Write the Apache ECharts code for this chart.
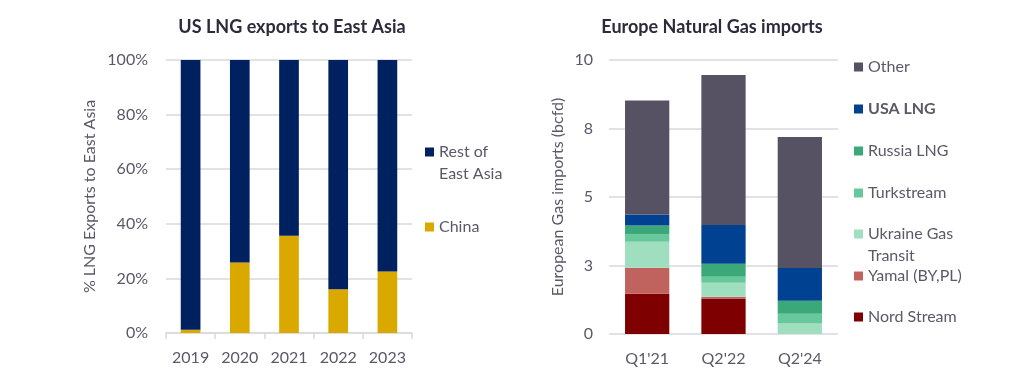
<!DOCTYPE html>
<html>
<head>
<meta charset="utf-8">
<script src="https://cdn.jsdelivr.net/npm/echarts@6/dist/echarts.min.js"></script>
<style>
html,body{margin:0;padding:0;background:#fff;}
#chart{width:1025px;height:379px;}
</style>
</head>
<body>
<div id="chart"></div>
<script>
// Left chart data
const years = ['2019', '2020', '2021', '2022', '2023'];
const china = [1.2, 25.8, 35.6, 16.0, 22.5];
const restOfEastAsia = [98.8, 74.2, 64.4, 84.0, 77.5];
const leftTicks = ['0%', '20%', '40%', '60%', '80%', '100%'];

// Right chart data
const quarters = ["Q1'21", "Q2'22", "Q2'24"];
const nordStream = [1.47, 1.30, 0];
const yamal = [0.95, 0.06, 0];
const ukraineTransit = [0.95, 0.51, 0.38];
const turkstream = [0.26, 0.22, 0.36];
const russiaLNG = [0.33, 0.47, 0.47];
const usaLNG = [0.40, 1.42, 1.20];
const other = [4.16, 5.47, 4.78];
const rightTicks = ['0', '3', '5', '8', '10'];

const FONT = 'Lato, "Open Sans", sans-serif';
const TXT = '#595968';
const GRID = '#d9d9de';

const chart = echarts.init(document.getElementById('chart'), null, {renderer: 'canvas'});

function leg(name, left, top, bold, twoLine) {
  return {
    data: [name], left: left, top: top, orient: 'vertical',
    itemWidth: 9, itemHeight: 9, itemGap: 0, padding: 0,
    icon: 'rect', selectedMode: false,
    formatter: twoLine ? twoLine : '{name}',
    textStyle: {
      fontFamily: FONT, fontSize: 16, color: TXT,
      fontWeight: bold ? 'bold' : 'normal',
      lineHeight: 22
    }
  };
}

const rightSeriesDefs = [
  ['Nord Stream', nordStream, '#7f0000'],
  ['Yamal (BY,PL)', yamal, '#c0625d'],
  ['Ukraine Gas Transit', ukraineTransit, '#9fdfc0'],
  ['Turkstream', turkstream, '#66c89b'],
  ['Russia LNG', russiaLNG, '#3aa878'],
  ['USA LNG', usaLNG, '#004191'],
  ['Other', other, '#575263']
];

const option = {
  animation: false,
  backgroundColor: '#ffffff',
  title: [
    {text: 'US LNG exports to East Asia', left: 287, top: 13, textAlign: 'center',
     textStyle: {fontFamily: FONT, fontSize: 18, fontWeight: 'bold', color: '#2b2b3b'}},
    {text: 'Europe Natural Gas imports', left: 707, top: 13, textAlign: 'center',
     textStyle: {fontFamily: FONT, fontSize: 18, fontWeight: 'bold', color: '#2b2b3b'}}
  ],
  legend: [
    leg('Rest of East Asia', 425, 119, false, ' \nRest of\nEast Asia'),
    leg('China', 425, 216, false),
    leg('Other', 854, 56, false),
    leg('USA LNG', 854, 98, true),
    leg('Russia LNG', 854, 140, false),
    leg('Turkstream', 854, 182, false),
    leg('Ukraine Gas Transit', 854, 201, false, ' \nUkraine Gas\nTransit'),
    leg('Yamal (BY,PL)', 854, 265, false),
    leg('Nord Stream', 854, 306, false)
  ],
  grid: [
    {left: 166, right: 613, top: 60, bottom: 46},
    {left: 609, right: 187, top: 60, bottom: 45}
  ],
  xAxis: [
    {type: 'category', gridIndex: 0, data: years,
     axisLine: {show: true, lineStyle: {color: GRID, width: 1.5}},
     axisTick: {show: true, length: 6, lineStyle: {color: GRID, width: 1.5}},
     axisLabel: {fontFamily: FONT, fontSize: 16, color: TXT, margin: 17}},
    {type: 'category', gridIndex: 1, data: quarters,
     axisLine: {show: false}, axisTick: {show: false},
     axisLabel: {fontFamily: FONT, fontSize: 16, color: TXT, margin: 17}}
  ],
  yAxis: [
    {type: 'value', gridIndex: 0, min: 0, max: 100, interval: 20,
     name: '% LNG Exports to East Asia', nameLocation: 'middle', nameGap: 68,
     nameTextStyle: {fontFamily: FONT, fontSize: 16, color: TXT},
     axisLine: {show: false}, axisTick: {show: false},
     axisLabel: {fontFamily: FONT, fontSize: 16, color: TXT, margin: 18,
       formatter: function (v) { return leftTicks[Math.round(v / 20)]; }},
     splitLine: {lineStyle: {color: GRID, width: 1.5}}},
    {type: 'value', gridIndex: 1, min: 0, max: 10, interval: 2.5,
     name: 'European Gas imports (bcfd)', nameLocation: 'middle', nameGap: 43,
     nameTextStyle: {fontFamily: FONT, fontSize: 16, color: TXT},
     axisLine: {show: false}, axisTick: {show: false},
     axisLabel: {fontFamily: FONT, fontSize: 16, color: TXT, margin: 16,
       formatter: function (v) { return rightTicks[Math.round(v / 2.5)]; }},
     splitLine: {lineStyle: {color: GRID, width: 1.5}}}
  ],
  series: [
    {name: 'China', type: 'bar', stack: 'L', xAxisIndex: 0, yAxisIndex: 0,
     data: china, barCategoryGap: '60%', itemStyle: {color: '#daa900'}},
    {name: 'Rest of East Asia', type: 'bar', stack: 'L', xAxisIndex: 0, yAxisIndex: 0,
     data: restOfEastAsia, barCategoryGap: '60%', itemStyle: {color: '#00215f'}}
  ].concat(rightSeriesDefs.map(function (d) {
    return {name: d[0], type: 'bar', stack: 'R', xAxisIndex: 1, yAxisIndex: 1,
      data: d[1], barCategoryGap: '42%', itemStyle: {color: d[2]}};
  }))
};

chart.setOption(option);
</script>
</body>
</html>
